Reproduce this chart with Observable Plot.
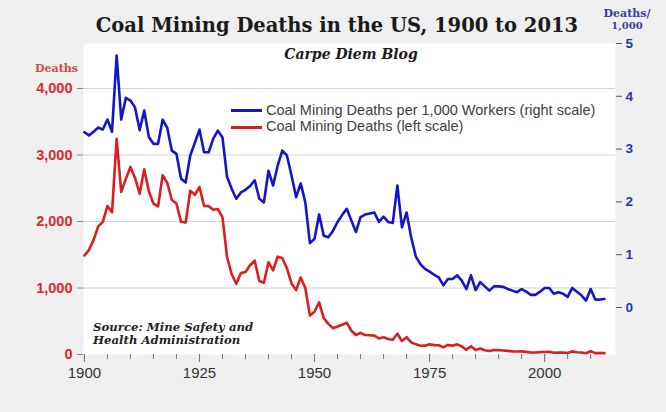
<!DOCTYPE html>
<html><head><meta charset="utf-8">
<script src="https://cdn.jsdelivr.net/npm/d3@7"></script>
<script src="https://cdn.jsdelivr.net/npm/@observablehq/plot@0.6"></script>
<style>
body{margin:0;background:#efefef;}
#wrap{position:relative;width:666px;height:412px;overflow:hidden;background:#efefef;}
#chart svg{display:block;}
.ov{position:absolute;white-space:nowrap;line-height:1;}
.serif{font-family:"DejaVu Serif",Georgia,serif;font-weight:bold;}
.sw{position:absolute;height:3px;width:31px;}
.lg{position:absolute;font-family:"Liberation Sans",Arial,sans-serif;font-size:14.5px;color:#404040;white-space:nowrap;line-height:17px;}
</style></head><body>
<div id="wrap">
<div id="chart"></div>
<div class="ov serif" style="left:337px;top:16px;transform:translateX(-50%);font-size:19.5px;color:#1a1a1a;">Coal Mining Deaths in the US, 1900 to 2013</div>
<div class="ov serif" style="left:351px;top:47px;transform:translateX(-50%);font-size:14px;font-style:italic;color:#1a1a1a;">Carpe Diem Blog</div>
<div class="ov serif" style="left:35px;top:63px;font-size:11px;color:#d04a4a;">Deaths</div>
<div class="ov serif" style="left:627px;top:8px;transform:translateX(-50%);font-size:11px;color:#3a3ab0;text-align:center;line-height:12px;">Deaths/<br><span style="font-size:10px;">1,000</span></div>
<div class="ov serif" style="left:93px;top:321px;font-size:11.7px;font-style:italic;color:#222;line-height:13px;">Source: Mine Safety and<br>Health Administration</div>
<div class="sw" style="left:231px;top:109px;background:#1414c8;"></div>
<div class="lg" style="left:266px;top:101.5px;">Coal Mining Deaths per 1,000 Workers (right scale)</div>
<div class="sw" style="left:231px;top:126px;background:#dc1e1e;"></div>
<div class="lg" style="left:266px;top:118px;">Coal Mining Deaths (left scale)</div>
</div>
<script>
const years = d3.range(1900, 2014);
const deaths = [
 1489,1574,1724,1926,1995,2232,2138,3242,2445,2642,
 2821,2656,2419,2785,2454,2269,2226,2696,2580,2323,
 2272,1995,1984,2462,2402,2518,2234,2231,2176,2187,
 2063,1463,1207,1064,1226,1242,1342,1413,1105,1078,
 1388,1266,1471,1451,1298,1068,968,1158,999,585,
 643,785,548,461,396,420,448,478,358,293,
 325,294,289,284,242,259,233,222,311,203,
 260,181,156,132,133,155,141,139,106,144,
 133,153,122,70,125,68,89,63,53,68,
 66,61,55,47,45,47,39,30,29,35,
 38,42,27,30,28,23,47,34,30,18,
 48,21,20,20
];
const ratePer1000 = [
 3.32,3.26,3.33,3.41,3.37,3.56,3.33,4.77,3.56,3.97,
 3.92,3.79,3.36,3.73,3.23,3.10,3.10,3.56,3.40,2.97,
 2.91,2.44,2.37,2.88,3.12,3.37,2.94,2.94,3.20,3.35,
 3.22,2.47,2.25,2.06,2.18,2.23,2.30,2.41,2.06,1.99,
 2.59,2.31,2.69,2.97,2.88,2.50,2.09,2.35,1.99,1.22,
 1.30,1.76,1.36,1.33,1.45,1.62,1.75,1.87,1.65,1.43,
 1.71,1.76,1.78,1.80,1.62,1.72,1.62,1.60,2.31,1.52,
 1.80,1.33,0.97,0.82,0.73,0.68,0.62,0.57,0.42,0.54,
 0.54,0.61,0.51,0.35,0.61,0.33,0.48,0.40,0.32,0.40,
 0.40,0.39,0.35,0.32,0.29,0.35,0.30,0.24,0.24,0.30,
 0.37,0.37,0.26,0.29,0.26,0.20,0.37,0.30,0.23,0.13,
 0.35,0.15,0.15,0.16
];
const leftTicks = [0, 1000, 2000, 3000, 4000];
const gridTicks = [1000, 2000, 3000, 4000];
const rightTicks = [0, 1, 2, 3, 4, 5];
const xLabelTicks = [1900, 1925, 1950, 1975, 2000];
const xMinorTicks = [1900,1905,1910,1915,1920,1925,1930,1935,1940,1945,1950,1955,1960,1965,1970,1975,1980,1985,1990,1995,2000,2005,2010];

// dual axis: right scale (rate) expressed in left-scale units
const RATE_OFFSET = 706.8, RATE_SCALE = 794;
const toLeft = r => RATE_OFFSET + r * RATE_SCALE;
const fromLeft = v => (v - RATE_OFFSET) / RATE_SCALE;

const deathRows = years.map((y, i) => ({year: y, value: deaths[i]}));
const rateRows = years.map((y, i) => ({year: y, value: toLeft(ratePer1000[i])}));

const BLUE = "#1414c8", RED = "#dc1e1e";

const chart = Plot.plot({
  width: 666, height: 412,
  marginLeft: 83, marginRight: 51, marginTop: 43, marginBottom: 58,
  style: {background: "transparent", overflow: "visible", fontFamily: "Liberation Sans, Arial, sans-serif"},
  x: {domain: [1899.8, 2015.4], label: null},
  y: {domain: [0, 4677], label: null},
  marks: [
    Plot.frame({fill: "white", stroke: "none"}),
    Plot.gridY(gridTicks, {stroke: "#d2d2d2", strokeOpacity: 1, strokeWidth: 1}),
    Plot.axisY(leftTicks, {anchor: "left", tickSize: 6, tickPadding: 5, tickFormat: d3.format(","),
      fill: "#e0262a", stroke: "#888", fontSize: 14.5, fontWeight: "bold", label: null}),
    Plot.axisY(rightTicks.map(toLeft), {anchor: "right", tickSize: 6, tickPadding: 4,
      tickFormat: d => String(Math.round(fromLeft(d))),
      fill: "#2b35a8", stroke: "#555", fontSize: 13.5, fontWeight: "bold", label: null}),
    Plot.axisX(xMinorTicks, {anchor: "bottom", tickSize: 5, fill: "none", stroke: "#777", label: null}),
    Plot.axisX(xLabelTicks, {anchor: "bottom", tickSize: 8, tickPadding: 5, tickFormat: d => String(d),
      fill: "#333", stroke: "#777", fontSize: 15, label: null}),
    Plot.line(deathRows, {x: "year", y: "value", stroke: RED, strokeWidth: 2.6, strokeLinejoin: "round"}),
    Plot.line(rateRows, {x: "year", y: "value", stroke: BLUE, strokeWidth: 2.6, strokeLinejoin: "round"})
  ]
});
document.getElementById("chart").appendChild(chart);
</script>
</body></html>
